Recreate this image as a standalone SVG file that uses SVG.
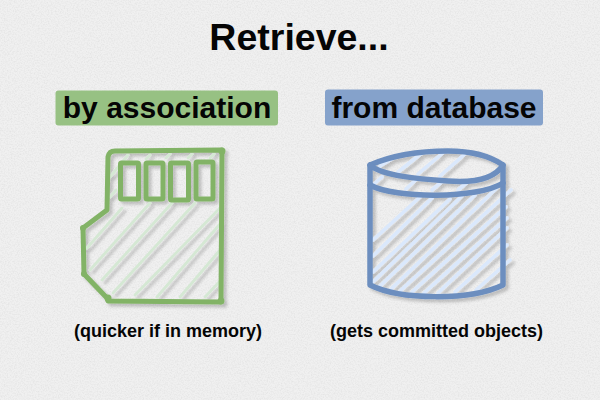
<svg xmlns="http://www.w3.org/2000/svg" width="600" height="400" viewBox="0 0 600 400">
<defs>
<filter id="paper" x="0" y="0" width="100%" height="100%">
<feTurbulence type="fractalNoise" baseFrequency="0.7" numOctaves="4" seed="7" result="n"/>
<feColorMatrix in="n" type="matrix" values="0 0 0 0 0.45  0 0 0 0 0.45  0 0 0 0 0.45  1.6 0 0 0 -0.62"/>
</filter>
<filter id="sh" x="-15%" y="-15%" width="130%" height="130%">
<feDropShadow dx="3" dy="3" stdDeviation="1.400" flood-color="#000" flood-opacity="0.2"/>
</filter>
</defs>
<style>
text{font-family:"Liberation Sans",Arial,sans-serif;font-weight:700;fill:#050505;text-anchor:middle}
.t{font-size:37.500px}.h{font-size:30px}.c{font-size:18px}
.gh{fill:none;stroke:#d5e8d4;stroke-width:2.800;stroke-linecap:round}
.bh{fill:none;stroke:#dae8fc;stroke-width:3.600;stroke-linecap:round}
.g{fill:none;stroke:#82b366;stroke-width:5;stroke-linejoin:round;stroke-linecap:round}
.b{fill:none;stroke:#6c8ebf;stroke-width:5.500;stroke-linejoin:round;stroke-linecap:round}
</style>
<rect id="background" width="600" height="400" fill="#f0f0f0"/>
<rect width="600" height="400" filter="url(#paper)" opacity="0.25"/>
<g id="title"><text class="t" x="299" y="50">Retrieve...</text></g>
<g id="label-association">
<rect x="55.500" y="90.500" width="222.500" height="35" rx="3" fill="#97c183"/>
<text class="h" x="167" y="118">by association</text>
</g>
<g id="label-database">
<rect x="325" y="89.500" width="218" height="36" rx="3" fill="#85a2cb"/>
<text class="h" x="434" y="118">from database</text>
</g>
<g id="card" filter="url(#sh)">
<path class="gh" d="M110 177L128 155M110 197L116 190M150 155L146 159M170 154L166 158M192 154L188 158M214 154L210 158M87 248L122 208M90 270L150 203M102 280L172 203M113 293L195 203M135 295L220 208M157 297L220 224M180 297L220 250M205 297L220 281"/>
<path class="g" d="M108 157Q109 151 115 151L222 150L221 302L108 301L107 298L84 274L83 228L107 210Z"/>
<circle cx="83" cy="228" r="3" fill="#82b366"/><circle cx="84" cy="274" r="3" fill="#82b366"/><circle cx="108" cy="298" r="3.500" fill="#82b366"/><circle cx="221" cy="301" r="3.500" fill="#82b366"/><circle cx="222" cy="151" r="3.500" fill="#82b366"/>
<rect class="g" x="120.500" y="163" width="18" height="36" rx="1"/>
<rect class="g" x="146" y="163" width="17" height="36" rx="1"/>
<rect class="g" x="170.500" y="163" width="18" height="37" rx="1"/>
<rect class="g" x="196" y="162" width="17" height="37" rx="1"/>
</g>
<g id="cylinder" filter="url(#sh)">
<path class="bh" d="M380 166L395 157M398 172L422 153M418 174L444 152M440 176L466 153M374 184L382 177M406 189L418 178M432 190L444 180M458 190L470 180M373 240L420 197M373 256L432 198M373 272L450 199M373 282L462 196M378 288L475 195M390 290L500 185M400 291L511 190M412 292L506 207M424 293L507 218M438 293L507 228M455 292L507 245M476 290L510 260"/>
<path class="b" d="M370 165C395 154 420 151 448 151C470 151 490 156 503 165L503 285C470 301 400 300 370 285Z"/>
<path class="b" d="M370 165C382 176 420 179 448 181C475 183 495 178 503 165"/>
<path class="b" d="M370 185C395 199 478 199 503 183"/>
</g>
<g id="captions">
<text class="c" x="168" y="337">(quicker if in memory)</text>
<text class="c" x="436.500" y="337">(gets committed objects)</text>
</g>
</svg>
